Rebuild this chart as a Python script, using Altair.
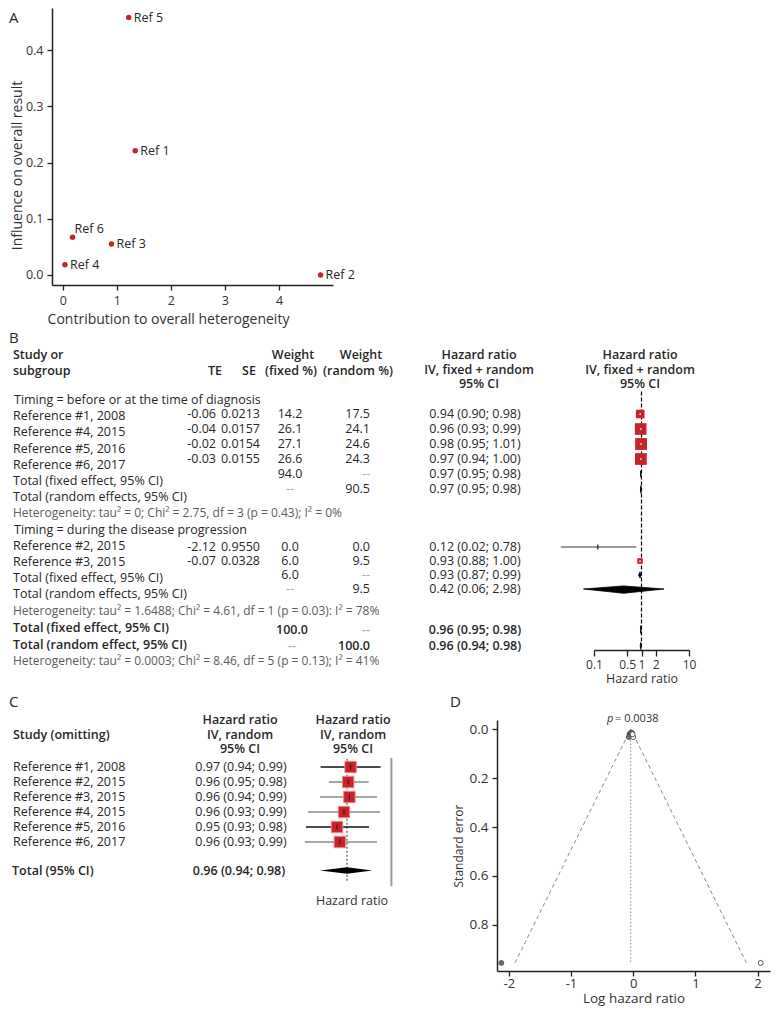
import altair as alt
import pandas as pd

W, H = 763, 1004
FONT = "Open Sans"
INK = "#272727"
SOFT = "#5c5c5c"
DASHES = "#ababab"
RED = "#c8232b"
DUMMY = pd.DataFrame({"k": [0]})
TS = 12.5    # table text size (panels B and C)
HS = 12.5    # header text size

# ================= Panel A : influence vs heterogeneity =================
a_names = ["Ref 1", "Ref 2", "Ref 3", "Ref 4", "Ref 5", "Ref 6"]
a_heterogeneity = [1.34, 4.77, 0.90, 0.04, 1.22, 0.18]
a_influence = [0.221, 0.000, 0.055, 0.018, 0.458, 0.067]
a_label_above = ["Ref 6"]
a_x_ticks = [0, 1, 2, 3, 4]
a_y_ticks = [0.0, 0.1, 0.2, 0.3, 0.4]

# ================= Panel B : subgroup forest plot =================
b_group_rows = [0, 8]
b_group_labels = ["Timing = before or at the time of diagnosis",
                  "Timing = during the disease progression"]
b_study_rows = [1, 2, 3, 4, 9, 10]
b_study_labels = ["Reference #1,  2008", "Reference #4, 2015", "Reference #5, 2016",
                  "Reference #6, 2017", "Reference #2, 2015", "Reference #3, 2015"]
b_te = ["-0.06", "-0.04", "-0.02", "-0.03", "-2.12", "-0.07"]
b_se = ["0.0213", "0.0157", "0.0154", "0.0155", "0.9550", "0.0328"]
b_w_fixed = [14.2, 26.1, 27.1, 26.6, 0.0, 6.0]
b_w_random = [17.5, 24.1, 24.6, 24.3, 0.0, 9.5]
b_hr = [0.94, 0.96, 0.98, 0.97, 0.12, 0.93]
b_lo = [0.90, 0.93, 0.95, 0.94, 0.02, 0.88]
b_hi = [0.98, 0.99, 1.01, 1.00, 0.78, 1.00]

b_total_rows = [5, 6, 11, 12]
b_total_labels = ["Total (fixed effect, 95% CI)", "Total (random effects, 95% CI)",
                  "Total (fixed effect, 95% CI)", "Total (random effects, 95% CI)"]
b_total_w_fixed = ["94.0", "--", "6.0", "--"]
b_total_w_random = ["--", "90.5", "--", "9.5"]
b_total_hr = [0.97, 0.97, 0.93, 0.42]
b_total_lo = [0.95, 0.95, 0.87, 0.06]
b_total_hi = [0.98, 0.98, 0.99, 2.98]

b_overall_rows = [14.1, 15.1]
b_overall_labels = ["Total (fixed effect, 95% CI)", "Total (random effect, 95% CI)"]
b_overall_w_fixed = ["100.0", "--"]
b_overall_w_random = ["--", "100.0"]
b_overall_hr = [0.96, 0.96]
b_overall_lo = [0.95, 0.94]
b_overall_hi = [0.98, 0.98]

b_het_rows = [7, 13, 16.1]
b_het_text = ["Heterogeneity: tau² = 0; Chi² = 2.75, df = 3 (p = 0.43); I² = 0%",
              "Heterogeneity: tau² = 1.6488; Chi² = 4.61, df = 1 (p = 0.03): I² = 78%",
              "Heterogeneity: tau² = 0.0003; Chi² = 8.46, df = 5 (p = 0.13); I² = 41%"]
b_null = 1.0
b_axis_ticks = [0.1, 0.5, 1, 2, 10]

# ================= Panel C : leave-one-out =================
c_rows = [0, 1, 2, 3, 4, 5]
c_labels = ["Reference #1, 2008", "Reference #2, 2015", "Reference #3, 2015",
            "Reference #4, 2015", "Reference #5, 2016", "Reference #6, 2017"]
c_text_hr = [0.97, 0.96, 0.96, 0.96, 0.95, 0.96]
c_text_lo = [0.94, 0.95, 0.94, 0.93, 0.93, 0.93]
c_text_hi = [0.99, 0.98, 0.99, 0.99, 0.98, 0.99]
c_plot_hr = [0.966, 0.964, 0.965, 0.9605, 0.9547, 0.957]
c_plot_lo = [0.941, 0.948, 0.9405, 0.9305, 0.9288, 0.928]
c_plot_hi = [0.991, 0.981, 0.988, 0.9905, 0.9813, 0.988]
c_dark_lines = ["Reference #1, 2008", "Reference #5, 2016"]
c_total_row = 6.9
c_total_text = [0.96, 0.94, 0.98]
c_total_plot = [0.963, 0.9405, 0.984]
c_pooled = 0.963
c_null = 1.0

# ================= Panel D : funnel plot =================
d_te_observed = [-0.06, -0.04, -0.02, -0.03, -2.12, -0.07]
d_se_observed = [0.0213, 0.0157, 0.0154, 0.0155, 0.9550, 0.0328]
d_te_filled = [2.05, 0.00, -0.01]
d_se_filled = [0.955, 0.0328, 0.0213]
d_funnel_x = [-1.90, -0.04, 1.82]
d_funnel_y = [0.955, 0.000, 0.955]
d_centre = -0.04
d_centre_se = [0.016, 0.955]
d_x_ticks = [-2, -1, 0, 1, 2]
d_y_ticks = [0.0, 0.2, 0.4, 0.6, 0.8]


def ci_text(h, l, u):
    return f"{h:.2f} ({l:.2f}; {u:.2f})"


def note(text, x, y, size=12, weight="normal", align="left", color=INK, style="normal"):
    return alt.Chart(DUMMY).mark_text(
        text=text, align=align, baseline="middle", fontSize=size, fontWeight=weight,
        fontStyle=style, font=FONT, color=color,
    ).encode(x=alt.value(x), y=alt.value(y))


def column(df, x, align, scale, weight="normal", color=INK, size=TS):
    return alt.Chart(df).mark_text(
        align=align, baseline="middle", fontSize=size, fontWeight=weight, font=FONT,
    ).encode(
        x=alt.value(x),
        y=alt.Y("row:Q", scale=scale, axis=None),
        text="t:N",
        color=alt.when("datum.t == '--'").then(alt.value(DASHES)).otherwise(alt.value(color)),
    )


def diamonds(rows, mids, los, his, half):
    recs = []
    for i, (r, m, l, u) in enumerate(zip(rows, mids, los, his)):
        recs += [dict(id=i, x=l, y1=r, y2=r),
                 dict(id=i, x=m, y1=r - half, y2=r + half),
                 dict(id=i, x=u, y1=r, y2=r)]
    return pd.DataFrame(recs)


layers = []

# ---------- scales (pixel ranges place each panel) ----------
sA_x = alt.Scale(domain=[-0.2, 5.0], range=[44, 325], nice=False, zero=False)
sA_y = alt.Scale(domain=[-0.018, 0.475], range=[277, 0], nice=False, zero=False)
sB_lab = alt.Scale(domain=[0, 20], range=[392, 716], nice=False, zero=False)
sB_val = alt.Scale(domain=[0, 6, 9, 12, 14.1, 15.1, 20],
                   range=[391, 481, 539, 581, 622, 638, 712], nice=False, zero=False)
sB_x = alt.Scale(type="log", domain=[0.1, 10], range=[586, 681], nice=False)
sC_y = alt.Scale(domain=[0, 10], range=[759, 909], nice=False, zero=False)
sC_x = alt.Scale(domain=[0.92, 1.0], range=[287.4, 383.4], nice=False, zero=False)
sD_x = alt.Scale(domain=[-2.19, 2.2], range=[489, 762], nice=False, zero=False)
sD_y = alt.Scale(domain=[-0.037, 0.988], range=[712, 963], nice=False, zero=False)

axis_common = dict(labelFlush=False, labelOverlap=False, domainWidth=1.5, tickWidth=1.3,
                   grid=False, labelFont=FONT, titleFont=FONT)

# ================= Panel A =================
dfA = pd.DataFrame({"name": a_names, "het": a_heterogeneity, "infl": a_influence})
axA_x = alt.Axis(orient="bottom", offset=277 - H, values=a_x_ticks, format="d",
                 title="Contribution to overall heterogeneity", titleX=160,
                 labelFontSize=12.5, titleFontSize=14, tickSize=5, labelPadding=4,
                 titlePadding=6, **axis_common)
axA_y = alt.Axis(orient="left", offset=-44, values=a_y_ticks, format=".1f",
                 title="Influence on overall result", titleY=157, titleX=-28,
                 labelFontSize=12.5, titleFontSize=14, tickSize=5, labelPadding=4,
                 **axis_common)
layers.append(alt.Chart(dfA).mark_circle(size=30, color=RED, opacity=1).encode(
    x=alt.X("het:Q", scale=sA_x, axis=axA_x),
    y=alt.Y("infl:Q", scale=sA_y, axis=axA_y)))
layers.append(alt.Chart(dfA[~dfA["name"].isin(a_label_above)]).mark_text(
    align="left", baseline="middle", dx=5, fontSize=12.5, font=FONT, color=INK).encode(
    x=alt.X("het:Q", scale=sA_x, axis=None),
    y=alt.Y("infl:Q", scale=sA_y, axis=None), text="name:N"))
layers.append(alt.Chart(dfA[dfA["name"].isin(a_label_above)]).mark_text(
    align="left", baseline="middle", dx=2, dy=-8, fontSize=12.5, font=FONT, color=INK).encode(
    x=alt.X("het:Q", scale=sA_x, axis=None),
    y=alt.Y("infl:Q", scale=sA_y, axis=None), text="name:N"))
layers.append(note("A", 1, 10, size=15))

# ================= Panel B =================
layers.append(note("B", 1, 330, size=15))
HW = 600
layers += [
    note("Study or", 5, 347, size=HS, weight=HW),
    note("subgroup", 5, 363, size=HS, weight=HW),
    note("TE", 207, 363, size=HS, weight=HW, align="center"),
    note("SE", 241, 363, size=HS, weight=HW, align="center"),
    note("Weight", 285, 347, size=HS, weight=HW, align="center"),
    note("(fixed %)", 283, 363, size=HS, weight=HW, align="center"),
    note("Weight", 353, 347, size=HS, weight=HW, align="center"),
    note("(random %)", 350, 363, size=HS, weight=HW, align="center"),
]
for x in (471, 632):
    layers += [note("Hazard ratio", x, 347, size=HS, weight=HW, align="center"),
               note("IV, fixed + random", x, 362, size=HS, weight=HW, align="center"),
               note("95% CI", x, 376, size=HS, weight=HW, align="center")]

dfB_lab = pd.DataFrame({"row": b_study_rows + b_total_rows, "t": b_study_labels + b_total_labels})
dfB_grp = pd.DataFrame({"row": b_group_rows, "t": b_group_labels})
dfB_het = pd.DataFrame({"row": b_het_rows, "t": b_het_text})
dfB_ovr = pd.DataFrame({"row": b_overall_rows, "t": b_overall_labels})
layers += [column(dfB_lab, 5, "left", sB_lab),
           column(dfB_grp, 6, "left", sB_lab),
           column(dfB_het, 5, "left", sB_lab, color=SOFT, size=12),
           column(dfB_ovr, 5, "left", sB_lab, weight=HW)]

dfB_te = pd.DataFrame({"row": b_study_rows, "t": b_te})
dfB_se = pd.DataFrame({"row": b_study_rows, "t": b_se})
dfB_wf = pd.DataFrame({"row": b_study_rows + b_total_rows,
                       "t": [f"{w:.1f}" for w in b_w_fixed] + b_total_w_fixed})
dfB_wr = pd.DataFrame({"row": b_study_rows + b_total_rows,
                       "t": [f"{w:.1f}" for w in b_w_random] + b_total_w_random})
dfB_ht = pd.DataFrame({"row": b_study_rows + b_total_rows,
                       "t": [ci_text(*v) for v in zip(b_hr, b_lo, b_hi)]
                       + [ci_text(*v) for v in zip(b_total_hr, b_total_lo, b_total_hi)]})
dfB_wf_b = pd.DataFrame({"row": b_overall_rows, "t": b_overall_w_fixed})
dfB_wr_b = pd.DataFrame({"row": b_overall_rows, "t": b_overall_w_random})
dfB_ht_b = pd.DataFrame({"row": b_overall_rows,
                         "t": [ci_text(*v) for v in zip(b_overall_hr, b_overall_lo, b_overall_hi)]})
layers += [column(dfB_te, 208, "right", sB_val),
           column(dfB_se, 252, "right", sB_val),
           column(dfB_wf, 282, "center", sB_val),
           column(dfB_wr, 362, "right", sB_val),
           column(dfB_ht, 467, "center", sB_val),
           column(dfB_wf_b, 284, "center", sB_val, weight=HW),
           column(dfB_wr_b, 362, "right", sB_val, weight=HW),
           column(dfB_ht_b, 467, "center", sB_val, weight=HW)]

# forest B
dfB_null = pd.DataFrame({"x": [b_null], "y1": [-0.5], "y2": [15.4]})
layers.append(alt.Chart(dfB_null).mark_rule(color="black", strokeWidth=1.2, strokeDash=[4, 2]).encode(
    x=alt.X("x:Q", scale=sB_x, axis=None),
    y=alt.Y("y1:Q", scale=sB_val, axis=None), y2="y2:Q"))
dfB_st = pd.DataFrame({"row": b_study_rows, "hr": b_hr, "lo": b_lo, "hi": b_hi, "w": b_w_fixed})
axB = alt.Axis(orient="bottom", offset=642 - H, values=b_axis_ticks, format="~g",
               title="Hazard ratio", labelFontSize=12, titleFontSize=12.5, tickSize=6,
               labelPadding=3, titlePadding=2, **axis_common)
layers.append(alt.Chart(dfB_st).mark_rule(color="#7a7a7a", strokeWidth=1.6).encode(
    x=alt.X("lo:Q", scale=sB_x, axis=axB), x2="hi:Q",
    y=alt.Y("row:Q", scale=sB_val, axis=None)))
layers.append(alt.Chart(dfB_st).mark_tick(orient="vertical", size=5, thickness=1.5, color="black").encode(
    x=alt.X("hr:Q", scale=sB_x, axis=None),
    y=alt.Y("row:Q", scale=sB_val, axis=None)))
layers.append(alt.Chart(dfB_st).mark_square(color=RED, opacity=1).encode(
    x=alt.X("hr:Q", scale=sB_x, axis=None),
    y=alt.Y("row:Q", scale=sB_val, axis=None),
    size=alt.Size("w:Q", scale=alt.Scale(domain=[0, 27], range=[0, 140]), legend=None)))
layers.append(alt.Chart(dfB_st[dfB_st["w"] > 0]).mark_circle(size=3, color="white", opacity=1).encode(
    x=alt.X("hr:Q", scale=sB_x, axis=None),
    y=alt.Y("row:Q", scale=sB_val, axis=None)))
dfB_dia = diamonds(b_total_rows + b_overall_rows, b_total_hr + b_overall_hr,
                   b_total_lo + b_overall_lo, b_total_hi + b_overall_hi, 0.22)
layers.append(alt.Chart(dfB_dia).mark_area(color="black", stroke="black", strokeWidth=0.8,
                                           orient="vertical", opacity=1).encode(
    x=alt.X("x:Q", scale=sB_x, axis=None),
    y=alt.Y("y1:Q", scale=sB_val, axis=None), y2="y2:Q", detail="id:N"))

# ================= Panel C =================
layers.append(note("C", 1, 694, size=15))
layers += [note("Study (omitting)", 5, 727, size=HS, weight=HW)]
for x in (232, 345):
    layers += [note("Hazard ratio", x, 712, size=HS, weight=HW, align="center"),
               note("IV, random", x, 727, size=HS, weight=HW, align="center"),
               note("95% CI", x, 741, size=HS, weight=HW, align="center")]
dfC = pd.DataFrame({"row": c_rows, "t": c_labels, "hr": c_plot_hr, "lo": c_plot_lo, "hi": c_plot_hi,
                    "ht": [ci_text(*v) for v in zip(c_text_hr, c_text_lo, c_text_hi)]})
layers.append(column(dfC[["row", "t"]], 5, "left", sC_y))
layers.append(column(dfC[["row", "ht"]].rename(columns={"ht": "t"}), 233, "center", sC_y))
dfC_tot = pd.DataFrame({"row": [c_total_row], "t": ["Total (95% CI)"],
                        "ht": [ci_text(*c_total_text)]})
layers.append(column(dfC_tot[["row", "t"]], 4, "left", sC_y, weight=HW))
layers.append(column(dfC_tot[["row", "ht"]].rename(columns={"ht": "t"}), 231, "center", sC_y,
                     weight=HW))
dfC_ref = pd.DataFrame({"x": [c_pooled], "y1": [-0.55], "y2": [7.7]})
layers.append(alt.Chart(dfC_ref).mark_rule(color="#333333", strokeWidth=1, strokeDash=[2, 2]).encode(
    x=alt.X("x:Q", scale=sC_x, axis=None),
    y=alt.Y("y1:Q", scale=sC_y, axis=None), y2="y2:Q"))
dfC_null = pd.DataFrame({"x": [c_null], "y1": [-0.6], "y2": [7.95]})
layers.append(alt.Chart(dfC_null).mark_rule(color="#9a9a9a", strokeWidth=2).encode(
    x=alt.X("x:Q", scale=sC_x, axis=None),
    y=alt.Y("y1:Q", scale=sC_y, axis=None), y2="y2:Q"))
layers.append(alt.Chart(dfC).mark_rule(strokeWidth=1.7).encode(
    x=alt.X("lo:Q", scale=sC_x, axis=None), x2="hi:Q",
    y=alt.Y("row:Q", scale=sC_y, axis=None),
    color=alt.when(alt.FieldOneOfPredicate(field="t", oneOf=c_dark_lines))
    .then(alt.value("#111111")).otherwise(alt.value("#8a8a8a"))))
layers.append(alt.Chart(dfC).mark_square(size=130, color=RED, stroke="#ea8a8d", strokeWidth=1,
                                         opacity=1).encode(
    x=alt.X("hr:Q", scale=sC_x, axis=None),
    y=alt.Y("row:Q", scale=sC_y, axis=None)))
layers.append(alt.Chart(dfC).mark_tick(orient="vertical", size=5, thickness=1, color="black").encode(
    x=alt.X("hr:Q", scale=sC_x, axis=None),
    y=alt.Y("row:Q", scale=sC_y, axis=None)))
dfC_dia = diamonds([c_total_row], [c_total_plot[0]], [c_total_plot[1]], [c_total_plot[2]], 0.22)
layers.append(alt.Chart(dfC_dia).mark_area(color="black", orient="vertical", opacity=1).encode(
    x=alt.X("x:Q", scale=sC_x, axis=None),
    y=alt.Y("y1:Q", scale=sC_y, axis=None), y2="y2:Q", detail="id:N"))
layers.append(note("Hazard ratio", 344, 893, size=12.5, align="center", color="#333333"))

# ================= Panel D =================
layers.append(note("D", 442, 694, size=15))
dfD_f = pd.DataFrame({"x": d_funnel_x, "y": d_funnel_y})
layers.append(alt.Chart(dfD_f).mark_line(color="#8a8a8a", strokeWidth=1, strokeDash=[4, 3]).encode(
    x=alt.X("x:Q", scale=sD_x, axis=None),
    y=alt.Y("y:Q", scale=sD_y, axis=None)))
dfD_c = pd.DataFrame({"x": [d_centre], "y1": [d_centre_se[0]], "y2": [d_centre_se[1]]})
layers.append(alt.Chart(dfD_c).mark_rule(color="#8a8a8a", strokeWidth=1, strokeDash=[1.5, 2]).encode(
    x=alt.X("x:Q", scale=sD_x, axis=None),
    y=alt.Y("y1:Q", scale=sD_y, axis=None), y2="y2:Q"))
axD_x = alt.Axis(orient="bottom", offset=963 - H, values=d_x_ticks, format="d",
                 labelExpr="replace(datum.label, '\u2212', '-')",
                 title="Log hazard ratio", labelFontSize=13, titleFontSize=13.5, tickSize=5,
                 labelPadding=1, titlePadding=1, **axis_common)
axD_y = alt.Axis(orient="left", offset=-489, values=d_y_ticks, format=".1f",
                 title="Standard error", labelFontSize=13.5, titleFontSize=12, tickSize=5,
                 labelPadding=4, titlePadding=4, **axis_common)
dfD_o = pd.DataFrame({"te": d_te_observed, "se": d_se_observed})
layers.append(alt.Chart(dfD_o).mark_circle(size=24, color="#6e6e6e", stroke="#444444",
                                           strokeWidth=0.8, opacity=1).encode(
    x=alt.X("te:Q", scale=sD_x, axis=axD_x),
    y=alt.Y("se:Q", scale=sD_y, axis=axD_y)))
dfD_i = pd.DataFrame({"te": d_te_filled, "se": d_se_filled})
layers.append(alt.Chart(dfD_i).mark_circle(size=24, fill="white", stroke="#555555",
                                           strokeWidth=1, opacity=1, fillOpacity=1).encode(
    x=alt.X("te:Q", scale=sD_x, axis=None),
    y=alt.Y("se:Q", scale=sD_y, axis=None)))
layers.append(note("p", 599, 711, size=11, style="italic", color="#333333"))
layers.append(note("= 0.0038", 607, 711, size=11, color="#333333"))

chart = alt.layer(*layers).resolve_scale(
    x="independent", y="independent", size="independent", color="independent"
).properties(
    width=W, height=H, padding=0, autosize=alt.AutoSizeParams(type="none")
).configure_view(stroke=None).configure_axis(
    domainColor="#222222", tickColor="#222222", labelColor="#333333", titleColor="#333333",
    titleFontWeight="normal", grid=False, labelFont=FONT, titleFont=FONT
)

chart.save("out.html", embed_options={"renderer": "svg", "actions": False})
